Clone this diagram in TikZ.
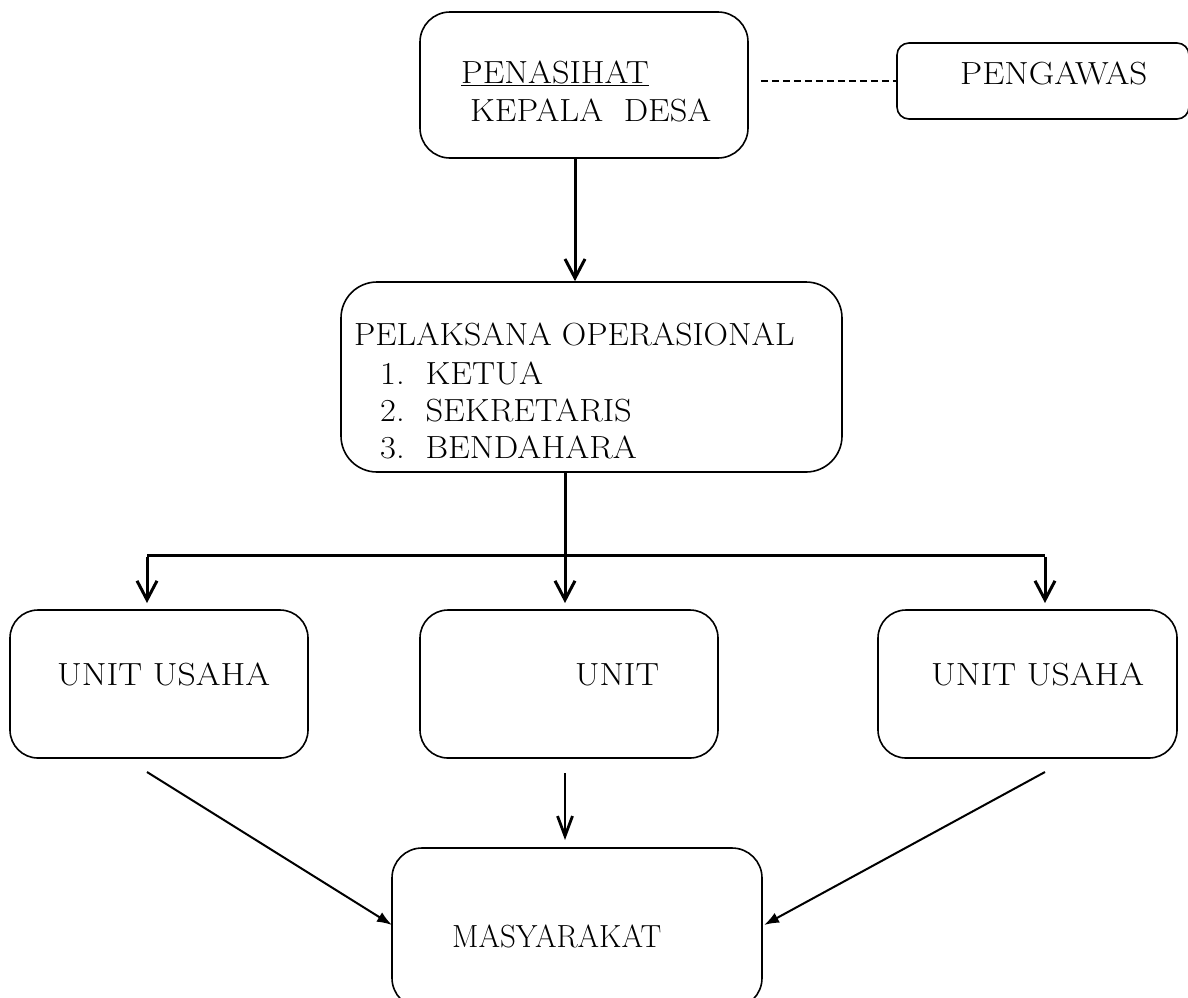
\documentclass[tikz,border=0pt]{standalone}
\usetikzlibrary{arrows.meta}
\newcommand\hsc[2]{\scalebox{#1}[1]{#2}}
\begin{document}
\begin{tikzpicture}[x=1pt,y=-1pt,
  box/.style={draw,line width=1.6pt,rounded corners=#1,inner sep=0pt},
  box/.default=28pt,
  txt/.style={anchor=base west,inner sep=0pt,font=\fontsize{32}{38}\selectfont},
  thk/.style={line width=3pt,-{Straight Barb[length=19pt,width=20pt,line width=3pt]}},
  thn/.style={line width=2pt,-{Latex[length=15pt,width=11pt]}},
  mid/.style={line width=2.8pt,-{Straight Barb[length=20pt,width=15pt,line width=2.8pt]}}]
\useasboundingbox (0,0) rectangle (1188,997);
% boxes
\node[box=30pt,minimum width=328pt,minimum height=146pt] (pen) at (584,85) {};
\node[box=12pt,minimum width=292pt,minimum height=76pt] (peng) at (1043,81) {};
\node[box=36pt,minimum width=501pt,minimum height=190pt] (pel) at (591.5,377) {};
\node[box,minimum width=298pt,minimum height=148pt] (ul) at (159,684) {};
\node[box,minimum width=298pt,minimum height=148pt] (um) at (569,684) {};
\node[box,minimum width=299pt,minimum height=148pt] (ur) at (1027.5,684) {};
\node[box=30pt,minimum width=370pt,minimum height=160pt] (mas) at (577,928) {};
% texts
\node[txt] (t1) at (461,83) {\hsc{1.074}{\underline{PENASIHAT}}};
\node[txt] (t2) at (470,121) {\hsc{1.076}{KEPALA\ \ DESA}};
\node[txt] (t3) at (960,84) {\hsc{1.10}{PENGAWAS}};
\node[txt] (t4) at (354,345) {\hsc{1.058}{PELAKSANA OPERASIONAL}};
\node[txt] (t5) at (380,384) {\hsc{1.08}{1.\ \ KETUA}};
\node[txt] (t6) at (380,421) {\hsc{1.08}{2.\ \ SEKRETARIS}};
\node[txt] (t7) at (380,458) {\hsc{1.08}{3.\ \ BENDAHARA}};
\node[txt] (t8) at (57,685) {\hsc{1.115}{UNIT USAHA}};
\node[txt] (t9) at (575,685) {\hsc{1.1}{UNIT}};
\node[txt] (t10) at (931,685) {\hsc{1.115}{UNIT USAHA}};
\node[txt] (t11) at (452,947) {\hsc{0.97}{MASYARAKAT}};
% connector helper coordinates
\coordinate (ax) at (575,0);
\coordinate (bx) at (565,0);
\coordinate (lx) at (147,0);
\coordinate (rx) at (1045,0);
\coordinate (hy) at (0,555);
\coordinate (ty) at (0,603);
\coordinate (dl) at (147,772);
\coordinate (dm) at (565,773);
\coordinate (dr) at (1045,772);
\coordinate (ml) at (392,925);
\coordinate (mr) at (764,925);
\coordinate (mt) at (565,840);
% connectors
\draw[dashed,line width=1.2pt,dash pattern=on 7pt off 4pt] ([xshift=12pt]pen.east |- peng.west) -- (peng.west);
\draw[thk] (pen.south -| ax) -- (pel.north -| ax);
\draw[thk] (pel.south -| bx) -- ([yshift=-6pt]hy -| bx) -- (ty -| bx);
\draw[line width=3pt] (hy -| lx) -- (hy -| rx);
\draw[thk] ([yshift=-1.5pt]hy -| lx) -- (ty -| lx);
\draw[thk] ([yshift=-1.5pt]hy -| rx) -- (ty -| rx);
\draw[thn] (dl) -- (ml);
\draw[thn] (dr) -- (mr);
\draw[mid] (dm) -- (mt);
\end{tikzpicture}
\end{document}
